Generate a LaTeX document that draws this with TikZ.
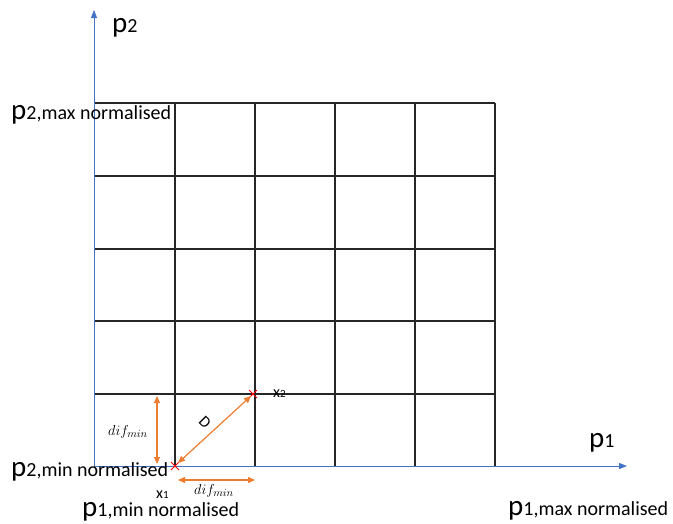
\documentclass[tikz,border=0pt]{standalone}
\usepackage{fontspec}
\setmainfont{Carlito}
\usetikzlibrary{arrows.meta,calc}
\definecolor{axisblue}{RGB}{68,114,196}
\definecolor{arrorange}{RGB}{237,125,49}
\tikzset{
  axis/.style={draw=axisblue, line width=1pt, -{Triangle[length=8pt,width=6pt]}},
  gridline/.style={draw=black!85, line width=1.2pt},
  dimarrow/.style={draw=arrorange, line width=1.2pt, {Triangle[length=7pt,width=6pt]}-{Triangle[length=7pt,width=6pt]}},
  bigp/.style={font=\fontsize{29}{29}\selectfont, inner sep=0pt},
  small/.style={font=\fontsize{16}{16}\selectfont, inner sep=0pt},
  mathlbl/.style={font=\fontsize{15}{15}\selectfont, inner sep=0pt},
  cross/.style={draw=red, line width=1pt},
}
\newcommand{\sub}[1]{\fontsize{20}{20}\selectfont #1}
\begin{document}
\begin{tikzpicture}[x=1pt,y=-1pt]
\useasboundingbox (0,0) rectangle (673,523);
% grid
\foreach \x in {175,255,335,415,495} \draw[gridline] (\x,103) -- (\x,466);
\foreach \y in {103,176,249,321,394} \draw[gridline] (94,\y) -- (495,\y);
% axes
\coordinate (O) at (94,466);
\coordinate (Ytip) at (94,10);
\coordinate (Xtip) at (627,466);
\draw[axis] (O) -- (Ytip);
\draw[axis] (O) -- (Xtip);
% points
\coordinate (x1) at (175,466);
\coordinate (x2) at (253,394);
\foreach \p in {x1,x2} {
  \draw[cross] ($(\p)+(-4,-4)$) -- ($(\p)+(4,4)$);
  \draw[cross] ($(\p)+(-4,4)$) -- ($(\p)+(4,-4)$);
}
% dimension arrows
\coordinate (va) at (157,396);
\coordinate (vb) at (157,464);
\draw[dimarrow] (va) -- (vb);
\coordinate (ha) at (178,480);
\coordinate (hb) at (255,480);
\draw[dimarrow] (ha) -- (hb);
\coordinate (da) at (178,463);
\coordinate (db) at (251,396);
\draw[dimarrow] (da) -- (db);
% labels
\node[bigp, anchor=base west] (lp2) at (112,32) {p\sub{2}};
\node[bigp, anchor=base west] (lp2max) at (11,119) {p\sub{2,max normalised}};
\node[bigp, anchor=base west] (lp2min) at (11,476) {p\sub{2,min normalised}};
\node[bigp, anchor=base west] (lp1) at (589,447) {p\sub{1}};
\node[bigp, anchor=base west] (lp1max) at (508,515) {p\sub{1,max normalised}};
\node[bigp, anchor=base west] (lp1min) at (82,516) {p\sub{1,min normalised}};
\node[small, anchor=base west] (lx1) at (156,498) {x\fontsize{11}{11}\selectfont 1};
\node[small, anchor=base west] (lx2) at (273,397) {x\fontsize{11}{11}\selectfont 2};
\node[mathlbl, anchor=center] (ldifv) at (128,432) {$dif_{min}$};
\node[mathlbl, anchor=center] (ldifh) at (214,491) {$dif_{min}$};
\node[small, anchor=center, rotate=-45] (lD) at (205,422) {D};
\end{tikzpicture}
\end{document}
